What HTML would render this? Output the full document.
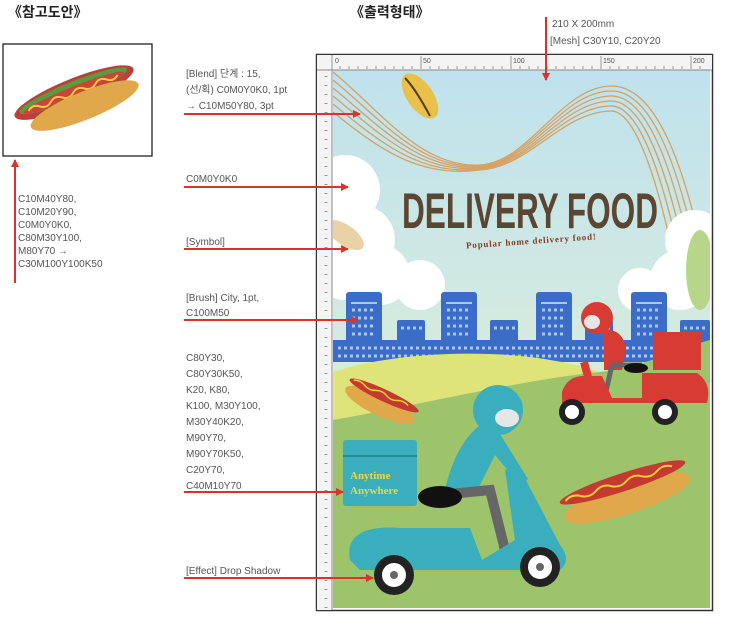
<!DOCTYPE html>
<html><head><meta charset="utf-8"><style>
html,body{margin:0;padding:0;background:#fff;width:743px;height:628px;overflow:hidden}
svg{display:block}
text{font-family:"Liberation Sans","Noto Sans CJK KR",sans-serif}
</style></head><body>
<svg width="743" height="628" viewBox="0 0 743 628" xmlns="http://www.w3.org/2000/svg">
<defs>
<linearGradient id="sky" x1="0" y1="0" x2="0" y2="1"><stop offset="0" stop-color="#bfe2ee"/><stop offset="0.6" stop-color="#d8ecdc"/><stop offset="1" stop-color="#e2f0dc"/></linearGradient>
<marker id="ah" markerWidth="8" markerHeight="8" refX="7" refY="4" orient="auto" markerUnits="userSpaceOnUse"><path d="M0,0 L8,4 L0,8 z" fill="#d8342c"/></marker>
<clipPath id="art"><rect x="333" y="70" width="377" height="538"/></clipPath>
</defs>
<text x="8" y="17" font-size="14" font-weight="bold" fill="#222">《참고도안》</text>
<text x="350" y="17" font-size="14" font-weight="bold" fill="#222">《출력형태》</text>
<rect x="3" y="44" width="149" height="112" fill="#fff" stroke="#222" stroke-width="1.3"/>
<g transform="rotate(-22 77 100)">
<ellipse cx="77" cy="92" rx="64" ry="14" fill="#b9413a"/>
<ellipse cx="77" cy="90" rx="58" ry="9" fill="#5c9a3e"/>
<ellipse cx="77" cy="92" rx="54" ry="6" fill="#c9443a"/>
<path d="M28,92 q6,-5 12,0 t12,0 t12,0 t12,0 t12,0 t12,0 t12,0 t12,0" stroke="#f2cc3a" stroke-width="2" fill="none"/>
<ellipse cx="82" cy="108" rx="58" ry="14" fill="#e0a84a"/>
</g>
<line x1="15" y1="283" x2="15" y2="160" stroke="#d8342c" stroke-width="2" marker-end="url(#ah)"/>
<g font-size="10" fill="#555">
<text x="18" y="202">C10M40Y80,</text>
<text x="18" y="215">C10M20Y90,</text>
<text x="18" y="228">C0M0Y0K0,</text>
<text x="18" y="241">C80M30Y100,</text>
<text x="18" y="254">M80Y70 →</text>
<text x="18" y="267">C30M100Y100K50</text>
</g>
<g clip-path="url(#art)">
<rect x="333" y="70" width="377" height="538" fill="url(#sky)"/>
<g fill="none" stroke="#d89a55" stroke-width="1.3" opacity="0.9">
<path d="M333,72 C380,110 420,168 480,165 C530,162 560,88 610,86 C660,84 690,180 712,300"/>
<path d="M333,80 C380,118 420,170 480,166 C530,163 560,93 610,91 C655,89 684,180 706,300"/>
<path d="M333,88 C380,126 420,172 480,167 C530,164 560,98 610,96 C650,94 678,180 700,300"/>
<path d="M333,96 C380,134 420,174 480,168 C530,165 560,103 610,101 C645,99 672,180 694,300"/>
<path d="M333,104 C380,142 420,176 480,169 C530,166 560,108 610,106 C640,104 666,180 688,300"/>
<path d="M333,112 C380,150 420,178 480,170 C530,167 560,113 610,111 C635,109 660,180 682,300"/>
</g>
<g fill="#fff">
<circle cx="345" cy="190" r="35"/><circle cx="360" cy="240" r="35"/><circle cx="380" cy="275" r="30"/><circle cx="345" cy="270" r="30"/><circle cx="420" cy="285" r="25"/>
<circle cx="695" cy="240" r="30"/><circle cx="680" cy="280" r="30"/><circle cx="640" cy="290" r="22"/>
</g>
<ellipse cx="420" cy="96" rx="13" ry="26" fill="#e8c04a" transform="rotate(-35 420 96)"/>
<path d="M405,78 q10,10 25,38" stroke="#5a3a1a" stroke-width="2" fill="none"/>
<ellipse cx="345" cy="235" rx="10" ry="22" fill="#e8d2a6" transform="rotate(-55 345 235)"/>
<ellipse cx="700" cy="270" rx="14" ry="40" fill="#b8d68a"/>
<text x="402" y="228" font-size="50" font-weight="bold" fill="#5a4632" textLength="256" lengthAdjust="spacingAndGlyphs">DELIVERY FOOD</text>
<text x="466" y="244" font-size="9" font-weight="bold" fill="#8a3a2a" style="font-family:'Liberation Serif',serif" textLength="130" transform="rotate(-4 530 242)">Popular home delivery food!</text>
<g fill="#3a6cc8">
<rect x="346" y="292" width="36" height="70" rx="3"/><rect x="397" y="320" width="28" height="42" rx="2"/>
<rect x="441" y="292" width="36" height="70" rx="3"/><rect x="490" y="320" width="28" height="42" rx="2"/>
<rect x="536" y="292" width="36" height="70" rx="3"/><rect x="585" y="320" width="28" height="42" rx="2"/>
<rect x="631" y="292" width="36" height="70" rx="3"/><rect x="680" y="320" width="30" height="42" rx="2"/>
<rect x="333" y="340" width="377" height="22"/>
</g>
<g fill="#a8c8f0">
<rect x="351" y="302" width="26" height="2"/><rect x="446" y="302" width="26" height="2"/><rect x="541" y="302" width="26" height="2"/><rect x="636" y="302" width="26" height="2"/>
</g>
<g stroke="#a8c8f0" stroke-width="3" stroke-dasharray="3 3" fill="none">
<path d="M352,310h24M352,318h24M352,326h24M352,334h24M447,310h24M447,318h24M447,326h24M447,334h24M542,310h24M542,318h24M542,326h24M542,334h24M637,310h24M637,318h24M637,326h24M637,334h24M401,328h22M494,328h22M589,328h22M684,328h22M338,348h370M338,356h370"/>
</g>
<path d="M333,372 C400,350 520,345 600,372 L710,360 L710,608 L333,608 Z" fill="#dfe47a"/>
<path d="M333,420 C420,405 520,380 600,372 C650,365 690,345 710,340 L710,608 L333,608 Z" fill="#9dc46a"/>
<g transform="rotate(25 382 400)"><ellipse cx="382" cy="405" rx="38" ry="11" fill="#e0a84a"/><ellipse cx="382" cy="395" rx="38" ry="6" fill="#c43a30"/><path d="M348,394 q6,-3 12,0 t12,0 t12,0 t12,0 t12,0" stroke="#f2cc3a" stroke-width="1.5" fill="none"/></g>
<g transform="rotate(-18 625 490)"><ellipse cx="625" cy="498" rx="66" ry="16" fill="#e0a84a"/><ellipse cx="625" cy="482" rx="66" ry="9" fill="#c43a30"/><path d="M565,482 q8,-5 16,0 t16,0 t16,0 t16,0 t16,0 t16,0 t16,0" stroke="#f2cc3a" stroke-width="2" fill="none"/></g>
<!-- red scooter -->
<g>
<rect x="653" y="332" width="48" height="38" fill="#d83a34"/>
<path d="M604,330 q18,-2 22,18 l-4,22 l-18,0 z" fill="#d83a34"/>
<path d="M612,365 l30,0 M612,365 l-8,35" stroke="#666" stroke-width="5" fill="none"/>
<ellipse cx="636" cy="368" rx="12" ry="5" fill="#111"/>
<circle cx="597" cy="318" r="16" fill="#d83a34"/><ellipse cx="592" cy="322" rx="8" ry="7" fill="#e6e6e6"/>
<path d="M562,392 q5,-15 20,-16 l20,0 l10,22 l30,0 l0,-25 l55,0 q15,10 10,30 l-145,0z" fill="#d83a34"/>
<path d="M592,392 l-8,-30" stroke="#d83a34" stroke-width="8"/>
<circle cx="572" cy="412" r="13" fill="#222"/><circle cx="572" cy="412" r="7" fill="#fff"/>
<circle cx="665" cy="412" r="13" fill="#222"/><circle cx="665" cy="412" r="7" fill="#fff"/>
</g>
<!-- blue scooter -->
<g>
<rect x="343" y="440" width="74" height="66" rx="3" fill="#3aaebc"/>
<rect x="343" y="455" width="74" height="2" fill="#2a8a96"/>
<text x="350" y="479" font-size="11" font-weight="bold" fill="#e8d84a" style="font-family:'Liberation Serif',serif">Anytime</text>
<text x="350" y="494" font-size="11" font-weight="bold" fill="#e8d84a" style="font-family:'Liberation Serif',serif">Anywhere</text>
<path d="M480,425 q-25,20 -35,65 l30,5 l20,-40 l25,30 l8,-6 l-28,-45z" fill="#3aaebc"/>
<path d="M440,495 l50,-5 l15,60" stroke="#666" stroke-width="10" fill="none"/>
<ellipse cx="440" cy="497" rx="22" ry="11" fill="#111"/>
<circle cx="498" cy="410" r="25" fill="#3aaebc"/><ellipse cx="507" cy="418" rx="12" ry="9" fill="#e6e6e6"/>
<path d="M350,560 C345,535 365,525 400,528 L470,528 L482,560 L515,540 L505,470 L518,465 L560,545 Q572,560 560,570 L360,570 Z" fill="#3aaebc"/>
<circle cx="394" cy="575" r="20" fill="#222"/><circle cx="394" cy="575" r="12" fill="#fff"/><circle cx="394" cy="575" r="4" fill="#666"/>
<circle cx="540" cy="567" r="20" fill="#222"/><circle cx="540" cy="567" r="12" fill="#fff"/><circle cx="540" cy="567" r="4" fill="#666"/>
</g>
</g>
<rect x="316.5" y="54.5" width="396" height="556" fill="none" stroke="#333" stroke-width="1.5"/>
<rect x="317" y="55" width="395" height="15" fill="#f4f4f4"/>
<rect x="317" y="55" width="15" height="555" fill="#f4f4f4"/>
<line x1="317" y1="70" x2="712" y2="70" stroke="#888"/>
<line x1="332" y1="55" x2="332" y2="610" stroke="#888"/>
<g stroke="#999" stroke-width="1">
<path d="M340,66v3M349,66v3M358,66v3M367,66v3M376,66v3M385,66v3M394,66v3M403,66v3M412,66v3M430,66v3M439,66v3M448,66v3M457,66v3M466,66v3M475,66v3M484,66v3M493,66v3M502,66v3M520,66v3M529,66v3M538,66v3M547,66v3M556,66v3M565,66v3M574,66v3M583,66v3M592,66v3M610,66v3M619,66v3M628,66v3M637,66v3M646,66v3M655,66v3M664,66v3M673,66v3M682,66v3M700,66v3"/>
<path d="M421,56v13M511,56v13M601,56v13M691,56v13M332,56v13"/>
</g>
<g font-size="7" fill="#555"><text x="335" y="63">0</text><text x="423" y="63">50</text><text x="513" y="63">100</text><text x="603" y="63">150</text><text x="693" y="63">200</text></g>
<g stroke="#999" stroke-dasharray="1 8" stroke-width="3"><line x1="326" y1="76" x2="326" y2="608"/></g>
<g font-size="10" fill="#555">
<text x="552" y="27">210 X 200mm</text>
<text x="550" y="44">[Mesh] C30Y10, C20Y20</text>
<text x="186" y="77">[Blend] 단계 : 15,</text>
<text x="186" y="93">(선/획) C0M0Y0K0, 1pt</text>
<text x="186" y="109"> → C10M50Y80, 3pt</text>
<text x="186" y="182">C0M0Y0K0</text>
<text x="186" y="245">[Symbol]</text>
<text x="186" y="301">[Brush] City, 1pt,</text>
<text x="186" y="316">C100M50</text>
<text x="186" y="361">C80Y30,</text>
<text x="186" y="377">C80Y30K50,</text>
<text x="186" y="393">K20, K80,</text>
<text x="186" y="409">K100, M30Y100,</text>
<text x="186" y="425">M30Y40K20,</text>
<text x="186" y="441">M90Y70,</text>
<text x="186" y="457">M90Y70K50,</text>
<text x="186" y="473">C20Y70,</text>
<text x="186" y="489">C40M10Y70</text>
<text x="186" y="574">[Effect] Drop Shadow</text>
</g>
<g stroke="#d8342c" stroke-width="2" marker-end="url(#ah)">
<line x1="546" y1="17" x2="546" y2="80"/>
<line x1="184" y1="114" x2="360" y2="114"/>
<line x1="184" y1="187" x2="348" y2="187"/>
<line x1="184" y1="249" x2="348" y2="249"/>
<line x1="184" y1="320" x2="358" y2="320"/>
<line x1="184" y1="492" x2="343" y2="492"/>
<line x1="184" y1="578" x2="373" y2="578"/>
</g>
</svg>
</body></html>
